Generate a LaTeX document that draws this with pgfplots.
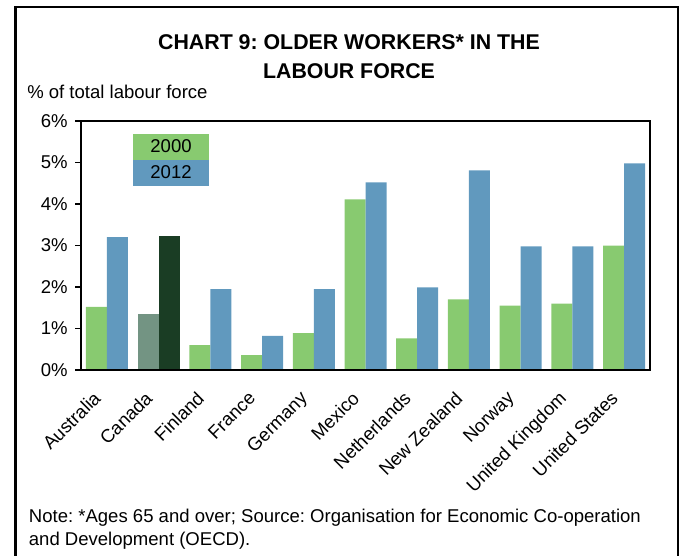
\documentclass[border=0pt]{standalone}
\usepackage{pgfplots}
\pgfplotsset{compat=1.18}
\usepackage{fontspec}
\setmainfont{Liberation Sans}
\frenchspacing
\definecolor{cA}{HTML}{88CA70}
\definecolor{cB}{HTML}{6199BE}
\definecolor{cC}{HTML}{739483}
\definecolor{cD}{HTML}{1A3D24}
\newcommand{\lf}{\fontsize{13.9}{16}\selectfont}
\pgfplotsset{fullleg/.style={legend image code/.code={\fill[##1,overlay] (0pt,-9.75pt) rectangle (57pt,9.75pt);}}}
\begin{document}
\begin{tikzpicture}
\useasboundingbox (0,0) rectangle (510.75pt,-417pt);
\draw[line width=2pt] (11.8pt,-440pt) -- (11.8pt,-5.25pt) -- (508.5pt,-5.25pt) -- (508.5pt,-440pt);
\node[anchor=base, inner sep=0, font=\fontsize{16}{19}\selectfont\bfseries] at (261.75pt,-37.5pt) {CHART 9: OLDER WORKERS* IN THE};
\node[anchor=base, inner sep=0, font=\fontsize{16}{19}\selectfont\bfseries] at (261.75pt,-59.25pt) {LABOUR FORCE};
\node[anchor=base west, inner sep=0, font=\lf] at (20.25pt,-74.25pt) {\% of total labour force};
\node[anchor=base west, inner sep=0, font=\lf] at (21.5pt,-391.5pt) {Note: *Ages 65 and over; Source: Organisation for Economic Co-operation};
\node[anchor=base west, inner sep=0, font=\lf] at (21.5pt,-408.75pt) {and Development (OECD).};
\begin{axis}[
  at={(60.75pt,-277.5pt)}, anchor=south west,
  width=426.75pt, height=186.75pt, scale only axis,
  ymin=0, ymax=6, xmin=-0.5, xmax=10.5,
  ytick={0,1,2,3,4,5,6},
  yticklabels={0\%,1\%,2\%,3\%,4\%,5\%,6\%},
  xtick={0,1,2,3,4,5,6,7,8,9,10},
  xticklabels={Australia,Canada,Finland,France,Germany,Mexico,Netherlands,New Zealand,Norway,United Kingdom,United States},
  axis line style={line width=1.6pt},
  tick align=outside, major tick length=4.5pt,
  ytick pos=left,
  ytick style={line width=1pt, black},
  xtick style={draw=none},
  ticklabel style={font=\lf},
  xticklabel style={xshift=-11pt, yshift=-9pt, rotate=45, anchor=north east, inner sep=1pt},
  yticklabel style={xshift=-2pt},
  axis on top,
  legend style={at={(0.0914,0.948)}, anchor=north west, draw=none, fill=none,
    inner sep=0pt, outer sep=0pt, row sep=0pt, column sep=0pt, font=\lf,
    nodes={text width=57pt, align=center, minimum height=19.5pt, inner sep=0pt}},
]
\addplot[ybar, bar width=15.75pt, bar shift=-7.875pt, fill=cA, draw=none, fullleg]
  coordinates {(0,1.52) (2,0.60) (3,0.36) (4,0.89) (5,4.11) (6,0.76) (7,1.70) (8,1.55) (9,1.60) (10,3.00)};
\addlegendentry{2000}
\addplot[ybar, bar width=15.75pt, bar shift=7.875pt, fill=cB, draw=none, fullleg]
  coordinates {(0,3.20) (2,1.95) (3,0.82) (4,1.95) (5,4.52) (6,1.99) (7,4.81) (8,2.98) (9,2.98) (10,4.98)};
\addlegendentry{2012}
\addplot[ybar, bar width=15.75pt, bar shift=-7.875pt, fill=cC, draw=none, forget plot]
  coordinates {(1,1.35)};
\addplot[ybar, bar width=15.75pt, bar shift=7.875pt, fill=cD, draw=none, forget plot]
  coordinates {(1,3.23)};
\end{axis}
\end{tikzpicture}
\end{document}
